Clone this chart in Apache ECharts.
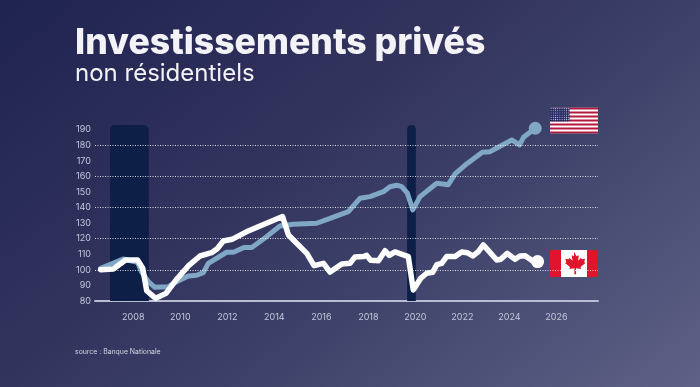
<!DOCTYPE html>
<html>
<head>
<meta charset="utf-8">
<style>
  html, body { margin: 0; padding: 0; background: #2b2f5c; }
  #chart { width: 700px; height: 387px; }
</style>
<script src="https://cdn.jsdelivr.net/npm/echarts@6/dist/echarts.min.js"></script>
</head>
<body>
<div id="chart"></div>
<script>
// valeurs (année décimale, indice)
const usYears = [2006.61, 2007.57, 2008.18, 2008.35, 2008.64, 2008.92, 2009.49, 2009.84, 2010.34, 2010.7, 2010.98, 2011.19, 2011.97, 2012.26, 2012.71, 2013.04, 2013.67, 2014.24, 2014.81, 2015.8, 2016.37, 2017.15, 2017.65, 2018.07, 2018.64, 2018.92, 2019.21, 2019.42, 2019.66, 2019.89, 2020.2, 2020.91, 2021.4, 2021.69, 2022.18, 2022.85, 2023.18, 2024.1, 2024.43, 2024.6, 2025.1]
const usValues = [101, 107, 104.8, 98.8, 92.4, 88.8, 89.2, 92.4, 96.1, 96.5, 98.2, 104.2, 111.3, 111.3, 114.3, 114.3, 121.3, 128.2, 129.3, 129.9, 133.1, 137.4, 146, 147, 150.2, 153.4, 154.3, 153.4, 149.2, 138.5, 147, 155.6, 154.7, 161.6, 168, 175.5, 175.9, 183.4, 180.2, 185.1, 190.9]
const caYears = [2006.61, 2007.15, 2007.67, 2008.18, 2008.4, 2008.57, 2008.95, 2009.39, 2009.84, 2010.34, 2010.84, 2011.33, 2011.57, 2011.83, 2012.2, 2012.89, 2013.39, 2014.35, 2014.6, 2015.38, 2015.69, 2016.09, 2016.37, 2016.87, 2017.22, 2017.43, 2017.79, 2017.93, 2018.1, 2018.43, 2018.71, 2018.89, 2019.13, 2019.7, 2019.91, 2020.23, 2020.48, 2020.74, 2020.91, 2021.12, 2021.33, 2021.69, 2021.97, 2022.21, 2022.44, 2022.68, 2022.89, 2023.46, 2023.63, 2023.91, 2024.24, 2024.45, 2024.67, 2025.02, 2025.2]
const caValues = [100.1, 100.6, 106.3, 106.3, 101, 86.6, 81.7, 84.9, 93.9, 102.5, 108.9, 111, 113.6, 118.5, 119.6, 125, 128.2, 134.2, 122.4, 110.6, 102.7, 104.2, 98.6, 103.8, 104.2, 108.3, 108.5, 109.3, 106.1, 105.9, 112.3, 109.3, 111.5, 108.5, 87.1, 94.6, 97.8, 98.4, 103.3, 104.2, 108.5, 108.5, 111.5, 111, 108.9, 111.7, 116, 106.3, 106.8, 110.6, 106.8, 108.9, 109.1, 105.3, 105.3]
const recessionStart = [2007.01, 2019.65]
const recessionEnd = [2008.66, 2020.02]
const xTicks = [2008, 2010, 2012, 2014, 2016, 2018, 2020, 2022, 2024, 2026]
const yTicks = [80, 90, 100, 110, 120, 130, 140, 150, 160, 170, 180, 190]
const gridValues = [100, 120, 140, 160, 180]

const FONT = 'Inter'
const LABEL_COLOR = '#c6c8da'
const US_COLOR = '#80a7c5'
const CA_COLOR = '#fdfdfe'

const usFlag = 'data:image/svg+xml;utf8,' + encodeURIComponent(
  '<svg xmlns="http://www.w3.org/2000/svg" width="48" height="26" viewBox="0 0 48 26">' +
  '<defs><pattern id="s" width="2.2" height="2.2" patternUnits="userSpaceOnUse"><rect width="2.2" height="2.2" fill="#22275f"/><circle cx="1.1" cy="1.1" r="0.55" fill="#d8d8e8"/></pattern></defs>' +
  '<rect width="48" height="26" fill="#fff"/>' +
  [0, 4, 8, 12, 16, 20, 24].map(y => '<rect y="' + y + '" width="48" height="2" fill="#b5183c"/>').join('') +
  '<rect width="19.5" height="14" fill="url(#s)"/></svg>')

const caFlag = 'data:image/svg+xml;utf8,' + encodeURIComponent(
  '<svg xmlns="http://www.w3.org/2000/svg" width="48" height="27" viewBox="0 0 48 27">' +
  '<rect width="48" height="27" fill="#fff"/>' +
  '<rect width="11" height="27" fill="#e0142c"/><rect x="37" width="11" height="27" fill="#e0142c"/>' +
  '<path transform="translate(24 13.5) scale(1.25) translate(-24 -12.6)" fill="#e0142c" d="M24 3.2l2 3.6 1.9-.9-.7 4.5 2.4-2.5.6 1.3 2.7-.5-.8 2.8 1.1.6-4 3.3.5 1.5-4.1-.6.1 4.8h-1.4l.1-4.8-4.1.6.5-1.5-4-3.3 1.1-.6-.8-2.8 2.7.5.6-1.3 2.4 2.5-.7-4.5 1.9.9z"/></svg>')

const chart = echarts.init(document.getElementById('chart'))

function zip(xs, ys) {
  return xs.map((x, i) => [x, ys[i]])
}

chart.setOption({
  animation: false,
  backgroundColor: {
    type: 'linear', x: 0, y: 0, x2: 0.66, y2: 1.49,
    colorStops: [
      { offset: 0, color: '#1f2350' },
      { offset: 0.41, color: '#33345e' },
      { offset: 0.59, color: '#3c4068' },
      { offset: 1, color: '#5f6186' }
    ]
  },
  title: [
    { text: 'Investissements privés', left: 75, top: 25, padding: 0, textStyle: { fontFamily: FONT, fontSize: 35.6, fontWeight: 800, color: '#f3f3f7' } },
    { text: 'non résidentiels', left: 75, top: 62, padding: 0, textStyle: { fontFamily: FONT, fontSize: 24, fontWeight: 400, color: '#f3f3f7' } },
    { text: 'source : Banque Nationale', left: 75, top: 348, padding: 0, textStyle: { fontFamily: FONT, fontSize: 6.9, fontWeight: 400, color: '#d4d5e2' } }
  ],
  grid: { left: 95, right: 102, top: 125, bottom: 86 },
  xAxis: {
    type: 'value',
    min: 2006.37,
    max: 2027.77,
    splitLine: { show: false },
    axisTick: { show: false },
    axisLine: { show: true, lineStyle: { color: '#b9bcd3', width: 2 } },
    axisLabel: { customValues: xTicks, margin: 12, fontFamily: FONT, fontSize: 9, color: LABEL_COLOR, formatter: v => String(v) }
  },
  yAxis: {
    type: 'value',
    min: 80,
    max: 193,
    splitLine: { show: false },
    axisTick: { show: false },
    axisLine: { show: false },
    axisLabel: { customValues: yTicks, margin: 4, fontFamily: FONT, fontSize: 9, color: LABEL_COLOR }
  },
  series: [
    {
      // lignes pointillées, sous les bandes de récession
      type: 'line',
      data: [],
      z: 1,
      silent: true,
      markLine: {
        silent: true,
        symbol: 'none',
        label: { show: false },
        lineStyle: { type: [1, 1.5], color: 'rgba(255,255,255,0.8)', width: 1 },
        data: gridValues.map(v => ({ yAxis: v }))
      }
    },
    {
      type: 'custom',
      z: 2,
      silent: true,
      clip: false,
      data: recessionStart.map((s, i) => [s, recessionEnd[i]]),
      encode: { x: [0, 1] },
      renderItem(params, api) {
        const a = api.coord([api.value(0), 193])
        const b = api.coord([api.value(1), 80])
        const w = b[0] - a[0]
        const r = Math.min(5, w / 2)
        return {
          type: 'rect',
          shape: { x: a[0], y: a[1], width: w, height: b[1] - a[1], r: [r, r, 0, 0] },
          style: { fill: '#0e1f47' }
        }
      }
    },
    {
      name: 'États-Unis',
      type: 'line',
      z: 3,
      data: zip(usYears, usValues),
      showSymbol: false,
      lineStyle: { color: US_COLOR, width: 5, join: 'round', cap: 'round' },
      itemStyle: { color: US_COLOR },
      markPoint: {
        symbol: 'circle', symbolSize: 13, label: { show: false }, itemStyle: { color: US_COLOR },
        data: [{ coord: [usYears[usYears.length - 1], usValues[usValues.length - 1]] }]
      }
    },
    {
      name: 'Canada',
      type: 'line',
      z: 4,
      data: zip(caYears, caValues),
      showSymbol: false,
      lineStyle: { color: CA_COLOR, width: 5.5, join: 'round', cap: 'round' },
      itemStyle: { color: CA_COLOR },
      markPoint: {
        symbol: 'circle', symbolSize: 13, label: { show: false }, itemStyle: { color: CA_COLOR },
        data: [{ coord: [caYears[caYears.length - 1], caValues[caValues.length - 1]] }]
      }
    }
  ],
  graphic: [
    { type: 'image', silent: true, style: { image: usFlag, x: 550, y: 107.5, width: 48, height: 26 } },
    { type: 'image', silent: true, style: { image: caFlag, x: 550, y: 250, width: 48, height: 27 } }
  ]
})
</script>
</body>
</html>
